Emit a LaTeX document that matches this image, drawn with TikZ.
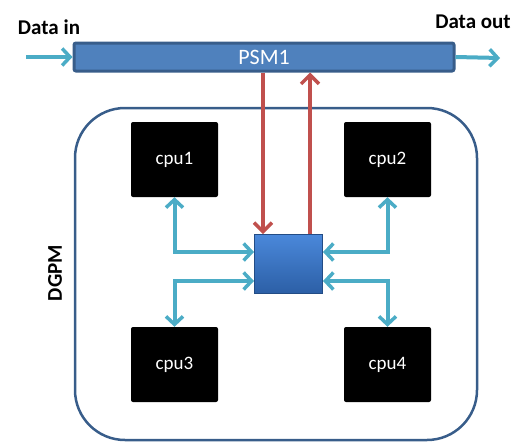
\documentclass[tikz,border=0pt]{standalone}
\usepackage{fontspec}
\setmainfont{Carlito}
\usepackage{xcolor}
\usepackage{tikz}
\usetikzlibrary{arrows.meta,positioning}

\definecolor{barblue}{HTML}{4F81BD}
\definecolor{edgeblue}{HTML}{385D8A}
\definecolor{linkcyan}{HTML}{4BACC6}
\definecolor{busred}{HTML}{C0504D}
\definecolor{hubtop}{HTML}{4A88DA}
\definecolor{hubbot}{HTML}{2C5FA6}

\begin{document}
\begin{tikzpicture}[x=1pt, y=-1pt,
  cpubox/.style={rectangle, rounded corners=2pt, fill=black, text=white, minimum width=87pt, minimum height=75pt, font=\fontsize{19}{22}\selectfont},
  link/.style={draw=linkcyan, line width=4pt, {Straight Barb[length=8pt,width=17pt,line width=3.5pt]}-{Straight Barb[length=8pt,width=17pt,line width=3.5pt]}},
  feed/.style={draw=linkcyan, line width=4pt, -{Straight Barb[length=8pt,width=17pt,line width=3.5pt]}},
  bus/.style={draw=busred, line width=3.5pt, -{Straight Barb[length=9pt,width=18pt,line width=3.5pt]}},
  lbl/.style={font=\bfseries\fontsize{21}{25}\selectfont}]
  \useasboundingbox (0,0) rectangle (531,442);
  \node[draw=edgeblue, line width=2.5pt, rounded corners=50pt, minimum width=402pt, minimum height=332pt] (dgpm) at (276,274) {};
  \node[lbl, rotate=90] (dgpmlbl) at (55,273) {DGPM};
  \node[draw=edgeblue, line width=3pt, rounded corners=2pt, fill=barblue, text=white, minimum width=380pt, minimum height=28pt, font=\fontsize{22}{26}\selectfont] (psm) at (264,57) {PSM1};
  \node[lbl] (din) at (49,27) {Data in};
  \node[lbl] (dout) at (473,22) {Data out};
  \coordinate (src) at (26,57);
  \coordinate (snk) at (500,58);
  \draw[feed] (src) -- (psm.west);
  \draw[feed] (psm.east) -- (snk);
  \node[cpubox] (cpu1) at (174.5,159.5) {cpu1};
  \node[cpubox] (cpu2) at (387.5,159.5) {cpu2};
  \node[cpubox] (cpu3) at (174.5,364.5) {cpu3};
  \node[cpubox] (cpu4) at (387.5,364.5) {cpu4};
  \node[draw=hubbot!80!black, line width=1pt, top color=hubtop, bottom color=hubbot, minimum width=68pt, minimum height=59pt] (hub) at (288.5,264) {};
  % bus to and from PSM1
  \draw[bus] ([xshift=9pt]hub.north west |- psm.south) -- ([xshift=9pt]hub.north west);
  \draw[bus] ([xshift=-13pt]hub.north east) -- ([xshift=-13pt]hub.north east |- psm.south);
  % links to the cpus
  \draw[link] (cpu1.south) |- ([yshift=-18pt]hub.north west);
  \draw[link] (cpu2.south) |- ([yshift=-18pt]hub.north east);
  \draw[link] (cpu3.north) |- ([yshift=13pt]hub.south west);
  \draw[link] (cpu4.north) |- ([yshift=13pt]hub.south east);
\end{tikzpicture}
\end{document}
